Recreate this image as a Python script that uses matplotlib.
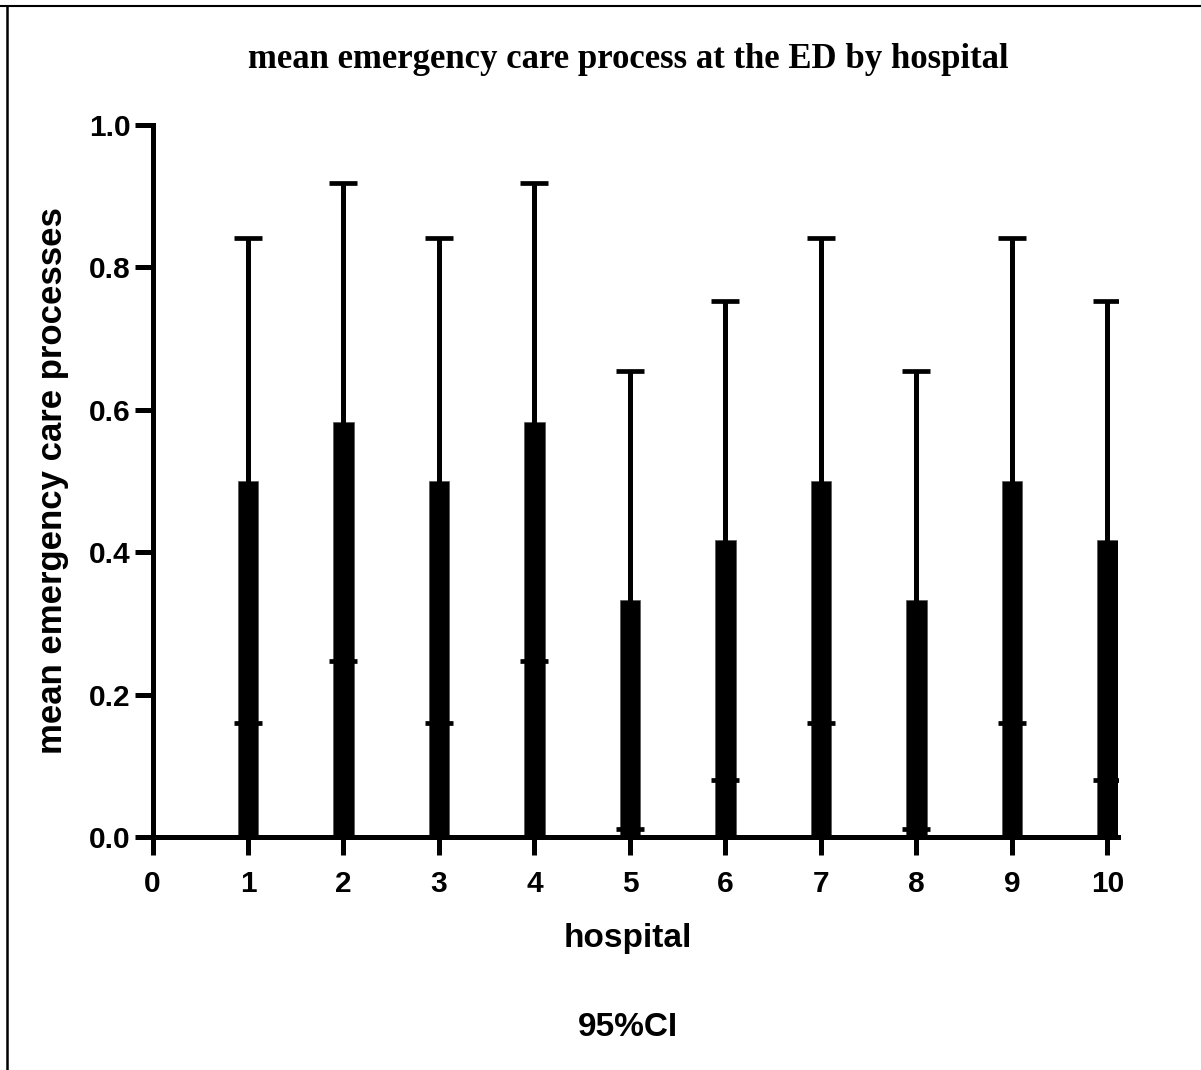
import numpy as np
import matplotlib
matplotlib.use('Agg')
import matplotlib.pyplot as plt
from matplotlib.lines import Line2D

# data
hospital = [1, 2, 3, 4, 5, 6, 7, 8, 9, 10]
mean_care = [0.500, 0.583, 0.500, 0.583, 0.333, 0.417, 0.500, 0.333, 0.500, 0.417]
ci_low = [0.160, 0.247, 0.160, 0.247, 0.011, 0.080, 0.160, 0.011, 0.160, 0.080]
ci_high = [0.841, 0.919, 0.841, 0.919, 0.655, 0.753, 0.841, 0.655, 0.841, 0.753]
xticks = [0, 1, 2, 3, 4, 5, 6, 7, 8, 9, 10]
yticks = [0.0, 0.2, 0.4, 0.6, 0.8, 1.0]

W, H = 1201, 1070
fig = plt.figure(figsize=(W / 100, H / 100), dpi=100)

left, right = 152.5 / W, 1118 / W
bottom, top = 1 - 837 / H, 1 - 125 / H
ax = fig.add_axes([left, bottom, right - left, top - bottom])

x = np.array(hospital)
m = np.array(mean_care)
yerr = [m - np.array(ci_low), np.array(ci_high) - m]

ax.bar(x, m, width=0.21, color='black', edgecolor='#555555', linewidth=0.5, zorder=2)
ax.errorbar(x, m, yerr=yerr, fmt='none', ecolor='black', elinewidth=3.6,
            capsize=10, capthick=3.4, zorder=3)

ax.set_xlim(0, 10.11)
ax.set_ylim(0, 1.0)
ax.set_xticks(xticks)
ax.set_yticks(yticks)
ax.set_yticklabels(['%.1f' % v for v in yticks])

for s in ['top', 'right']:
    ax.spines[s].set_visible(False)
for s in ['left', 'bottom']:
    ax.spines[s].set_linewidth(3.6)
    ax.spines[s].set_zorder(4)

sans = 'Liberation Sans'
ax.tick_params(axis='both', direction='out', length=13, width=3.6, labelsize=21.5)
ax.tick_params(axis='x', pad=11)
ax.tick_params(axis='y', pad=3)
for lab in ax.get_xticklabels() + ax.get_yticklabels():
    lab.set_fontfamily(sans)
    lab.set_fontweight('bold')

ax.set_ylabel('mean emergency care processes', fontsize=25, fontweight='bold',
              family=sans, labelpad=14)

fig.text(628 / W, 1 - 59 / H, 'mean emergency care process at the ED by hospital',
         ha='center', va='center', fontsize=25, fontweight='bold', family='Liberation Serif')
fig.text(628 / W, 1 - 938 / H, 'hospital', ha='center', va='center',
         fontsize=24, fontweight='bold', family=sans)
fig.text(628 / W, 1 - 1027 / H, '95%CI', ha='center', va='center',
         fontsize=24, fontweight='bold', family=sans)

# frame lines at top and left of the picture
fig.add_artist(Line2D([0, 1], [1 - 5.5 / H, 1 - 5.5 / H], color='black', linewidth=1.5))
fig.add_artist(Line2D([6.5 / W, 6.5 / W], [0, 1 - 5.5 / H], color='black', linewidth=1.8))

fig.savefig('out.png', dpi=100)
